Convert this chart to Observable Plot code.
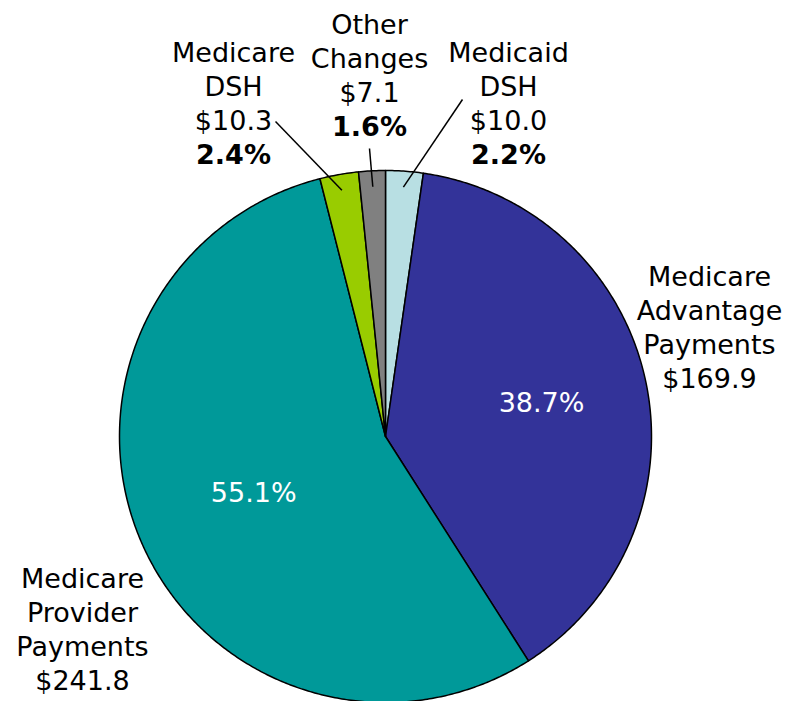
<!DOCTYPE html>
<html>
<head>
<meta charset="utf-8">
<script src="https://cdn.jsdelivr.net/npm/d3@7"></script>
<script src="https://cdn.jsdelivr.net/npm/@observablehq/plot@0.6"></script>
<style>
  html, body { margin: 0; padding: 0; background: #ffffff; }
  #chart svg { display: block; }
</style>
</head>
<body>
<div id="chart"></div>
<script>
// ---- data (clockwise from 12 o'clock) ----
const categories = ["Medicaid DSH", "Medicare Advantage Payments", "Medicare Provider Payments", "Medicare DSH", "Other Changes"];
const nameLines = ["Medicaid\nDSH", "Medicare\nAdvantage\nPayments", "Medicare\nProvider\nPayments", "Medicare\nDSH", "Other\nChanges"];
const values = [10.0, 169.9, 241.8, 10.3, 7.1];
const valueLabels = ["$10.0", "$169.9", "$241.8", "$10.3", "$7.1"];
const percentLabels = ["2.2%", "38.7%", "55.1%", "2.4%", "1.6%"];
const colors = ["#B8DFE3", "#333399", "#009999", "#99CC00", "#808080"];

// ---- layout ----
const W = 787, H = 701, CX = 385, CY = 436, R = 266;
const labelAnchor = [
  {x: 508, y: 37}, {x: 709, y: 261}, {x: 82, y: 563}, {x: 233, y: 37}, {x: 369, y: 9}
];
const pctInsideRadius = [null, 0.60, 0.54, null, null];
const leaderOuter = [{x: 462, y: 99}, null, null, {x: 275, y: 121}, {x: 369, y: 148}];
const leaderInnerRadius = 0.94;

const arcs = d3.pie().sort(null).value(d => d)(values);
const pt = (a, r) => ({x: CX + r * Math.sin(a), y: CY - r * Math.cos(a)});

// slice outlines (centre + arc edge)
const slices = arcs.map((a, i) => {
  const n = Math.max(2, Math.ceil((a.endAngle - a.startAngle) / (Math.PI / 360)));
  const pts = [{x: CX, y: CY}];
  for (let k = 0; k <= n; ++k) pts.push(pt(a.startAngle + (a.endAngle - a.startAngle) * k / n, R));
  pts.push({x: CX, y: CY});
  return {pts, fill: colors[i]};
});

const outside = categories.map((c, i) => ({
  x: labelAnchor[i].x, y: labelAnchor[i].y,
  text: nameLines[i] + "\n" + valueLabels[i],
  bold: pctInsideRadius[i] == null ? "\n".repeat(nameLines[i].split("\n").length + 1) + percentLabels[i] : null
}));

const inside = arcs.map((a, i) => {
  if (pctInsideRadius[i] == null) return null;
  const m = (a.startAngle + a.endAngle) / 2;
  return {...pt(m, pctInsideRadius[i] * R), text: percentLabels[i]};
}).filter(d => d);

const leaders = arcs.map((a, i) => {
  if (!leaderOuter[i]) return null;
  const m = (a.startAngle + a.endAngle) / 2;
  const p = pt(m, leaderInnerRadius * R);
  return {x1: leaderOuter[i].x, y1: leaderOuter[i].y, x2: p.x, y2: p.y};
}).filter(d => d);

const chart = Plot.plot({
  width: W, height: H,
  margin: 0,
  x: {domain: [0, W], range: [0, W], axis: null},
  y: {domain: [0, H], range: [0, H], axis: null},
  style: {fontFamily: "'DejaVu Sans', Verdana, sans-serif", background: "#ffffff", overflow: "visible"},
  marks: [
    ...slices.map(s => Plot.line(s.pts, {x: "x", y: "y", fill: s.fill, stroke: "#000000", strokeWidth: 1.5, strokeLinejoin: "round"})),
    Plot.link(leaders, {x1: "x1", y1: "y1", x2: "x2", y2: "y2", stroke: "#000000", strokeWidth: 1.5}),
    Plot.text(outside, {x: "x", y: "y", text: "text", lineAnchor: "top", lineHeight: 1.26, fontSize: 27, fill: "#000000"}),
    Plot.text(outside.filter(d => d.bold), {x: "x", y: "y", text: "bold", lineAnchor: "top", lineHeight: 1.26, fontSize: 27, fontWeight: "bold", fill: "#000000"}),
    Plot.text(inside, {x: "x", y: "y", text: "text", fontSize: 27, fill: "#ffffff"})
  ]
});
document.getElementById("chart").appendChild(chart);
</script>
</body>
</html>
